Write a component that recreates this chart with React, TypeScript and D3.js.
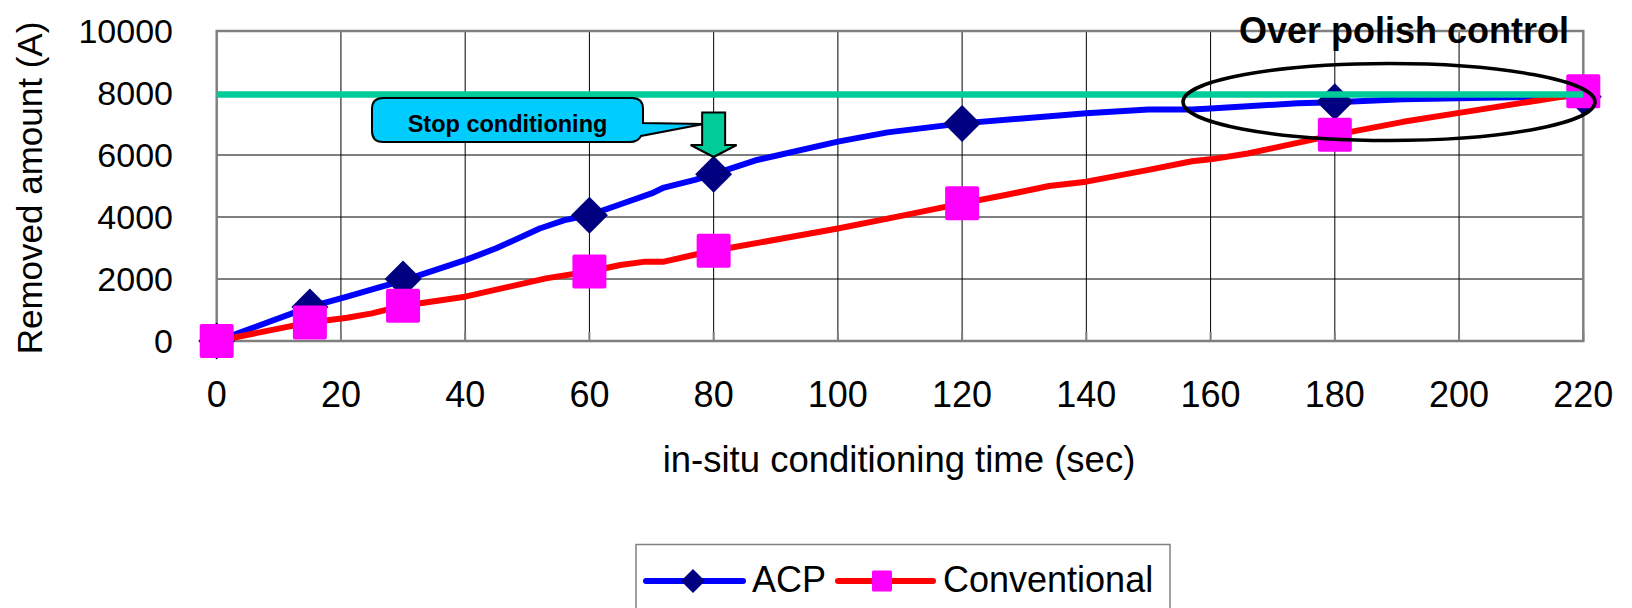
import { useEffect, useRef } from 'react'
import * as d3 from 'd3'

const WIDTH = 1632
const HEIGHT = 608
const PLOT = { left: 216.7, right: 1583.3, top: 31, bottom: 341 }
const FONT = 'Arial, "Liberation Sans", sans-serif'

const X_TICKS = [0, 20, 40, 60, 80, 100, 120, 140, 160, 180, 200, 220]
const Y_TICKS = [0, 2000, 4000, 6000, 8000, 10000]

// continuous traces (sec, Å)
const ACP_TIME = [0, 15, 21, 26, 30, 40, 45, 52, 56, 60, 65, 70, 72, 77, 80, 87, 100, 108, 120, 140, 150, 157, 160, 174, 180, 191, 200, 220]
const ACP_AMOUNT = [0, 1100, 1430, 1720, 1950, 2610, 2990, 3630, 3900, 4060, 4410, 4760, 4950, 5200, 5380, 5840, 6430, 6730, 7020, 7350, 7470, 7470, 7500, 7670, 7700, 7800, 7830, 7900]
const CONV_TIME = [0, 15, 21, 25, 30, 40, 53, 60, 65, 69, 72, 78, 80, 100, 110, 120, 127, 134, 140, 150, 157, 160, 166, 180, 191, 200, 220]
const CONV_AMOUNT = [0, 600, 750, 890, 1140, 1430, 2020, 2240, 2450, 2560, 2560, 2830, 2910, 3630, 4030, 4440, 4710, 5000, 5140, 5520, 5800, 5860, 6050, 6650, 7070, 7360, 7990]

// measured points with markers
const MARK_TIME = [0, 15, 30, 60, 80, 120, 180, 220]
const ACP_MARKS = [0, 1100, 2000, 4060, 5380, 7020, 7720, 7880]
const CONV_MARKS = [0, 600, 1140, 2240, 2910, 4440, 6650, 8060]

const TARGET = 7950
const STOP_TIME = 80

function diamond(cx: number, cy: number, r: number) {
  return `M${cx},${cy - r}L${cx + r},${cy}L${cx},${cy + r}L${cx - r},${cy}Z`
}

export default function App() {
  const svgRef = useRef<SVGSVGElement>(null)

  useEffect(() => {
    if (!svgRef.current) return
    const svg = d3.select(svgRef.current)
    svg.selectAll('*').remove()

    const x = d3.scaleLinear().domain([0, 220]).range([PLOT.left, PLOT.right])
    const y = d3.scaleLinear().domain([0, 10000]).range([PLOT.bottom, PLOT.top])

    svg.append('rect').attr('width', WIDTH).attr('height', HEIGHT).attr('fill', '#fff')

    // ── Grid ──
    const grid = svg.append('g')
    grid.selectAll('.vg').data(X_TICKS.slice(1, -1)).join('line')
      .attr('x1', (d) => x(d)).attr('x2', (d) => x(d))
      .attr('y1', PLOT.top).attr('y2', PLOT.bottom)
      .attr('stroke', '#000').attr('stroke-width', 1)
    grid.selectAll('.hg').data(Y_TICKS.slice(1, -1)).join('line')
      .attr('x1', PLOT.left).attr('x2', PLOT.right)
      .attr('y1', (d) => y(d)).attr('y2', (d) => y(d))
      .attr('stroke', '#000').attr('stroke-width', 1)

    // inside tick marks
    grid.selectAll('.xt').data(X_TICKS).join('line')
      .attr('x1', (d) => x(d)).attr('x2', (d) => x(d))
      .attr('y1', PLOT.bottom - 9).attr('y2', PLOT.bottom)
      .attr('stroke', '#808080').attr('stroke-width', 2)
    grid.selectAll('.yt').data(Y_TICKS).join('line')
      .attr('x1', PLOT.left).attr('x2', PLOT.left + 10)
      .attr('y1', (d) => y(d)).attr('y2', (d) => y(d))
      .attr('stroke', '#808080').attr('stroke-width', 2)

    // frame
    svg.append('rect')
      .attr('x', PLOT.left).attr('y', PLOT.top)
      .attr('width', PLOT.right - PLOT.left).attr('height', PLOT.bottom - PLOT.top)
      .attr('fill', 'none').attr('stroke', '#808080').attr('stroke-width', 2.5)

    // ── Tick labels ──
    svg.append('g').selectAll('text').data(Y_TICKS).join('text')
      .attr('x', 173).attr('y', (d) => y(d)).attr('dy', '0.35em')
      .attr('text-anchor', 'end').attr('font-family', FONT).attr('font-size', 34).attr('fill', '#000')
      .text((d) => d)
    svg.append('g').selectAll('text').data(X_TICKS).join('text')
      .attr('x', (d) => x(d)).attr('y', 406.5)
      .attr('text-anchor', 'middle').attr('font-family', FONT).attr('font-size', 36).attr('fill', '#000')
      .text((d) => d)

    // axis titles
    svg.append('text')
      .attr('x', 899).attr('y', 472)
      .attr('text-anchor', 'middle').attr('font-family', FONT).attr('font-size', 36.5).attr('fill', '#000')
      .text('in-situ conditioning time (sec)')
    svg.append('text')
      .attr('transform', 'translate(42,188) rotate(-90)')
      .attr('text-anchor', 'middle').attr('font-family', FONT).attr('font-size', 35).attr('fill', '#000')
      .text('Removed amount (A)')

    // ── Series ──
    const line = d3.line<[number, number]>().x((d) => x(d[0])).y((d) => y(d[1]))
    const acp = ACP_TIME.map((t, i) => [t, ACP_AMOUNT[i]] as [number, number])
    const conv = CONV_TIME.map((t, i) => [t, CONV_AMOUNT[i]] as [number, number])

    svg.append('path').attr('d', line(acp)).attr('fill', 'none')
      .attr('stroke', '#0000FF').attr('stroke-width', 6).attr('stroke-linejoin', 'round')
    svg.append('g').selectAll('path').data(MARK_TIME).join('path')
      .attr('d', (t, i) => diamond(x(t), y(ACP_MARKS[i]), 18.5))
      .attr('fill', '#000080')

    svg.append('path').attr('d', line(conv)).attr('fill', 'none')
      .attr('stroke', '#FF0000').attr('stroke-width', 6).attr('stroke-linejoin', 'round')
    svg.append('g').selectAll('rect').data(MARK_TIME).join('rect')
      .attr('x', (t) => x(t) - 17).attr('y', (t, i) => y(CONV_MARKS[i]) - 17)
      .attr('width', 34).attr('height', 34).attr('rx', 2)
      .attr('fill', '#FF00FF')

    // target line
    svg.append('line')
      .attr('x1', x(0)).attr('x2', x(220)).attr('y1', y(TARGET)).attr('y2', y(TARGET))
      .attr('stroke', '#00CC99').attr('stroke-width', 6.5)

    // ── Callout "Stop conditioning" ──
    const bx0 = 372, bx1 = 643, by0 = 98, by1 = 142, r = 11
    const tipX = x(STOP_TIME) - 10, tipY = 124
    svg.append('path')
      .attr('d', `M${bx0 + r},${by0}H${bx1 - r}Q${bx1},${by0} ${bx1},${by0 + r}V123L${tipX},${tipY}L${bx1 - 2},${136}Q${bx1 - 5},${by1} ${bx1 - r - 2},${by1}H${bx0 + r}Q${bx0},${by1} ${bx0},${by1 - r}V${by0 + r}Q${bx0},${by0} ${bx0 + r},${by0}Z`)
      .attr('fill', '#00CCFF').attr('stroke', '#000').attr('stroke-width', 2)
    svg.append('text')
      .attr('x', 507.5).attr('y', 131.5)
      .attr('text-anchor', 'middle').attr('font-family', FONT).attr('font-weight', 'bold')
      .attr('font-size', 23.5).attr('fill', '#000')
      .text('Stop conditioning')

    // down arrow at stop point
    const ax = x(STOP_TIME)
    svg.append('path')
      .attr('d', `M${ax - 11.5},112.5H${ax + 11.5}V145H${ax + 23}L${ax},157L${ax - 23},145H${ax - 11.5}Z`)
      .attr('fill', '#00CC99').attr('stroke', '#000').attr('stroke-width', 2).attr('stroke-linejoin', 'miter')

    // ── Over polish ellipse ──
    svg.append('ellipse')
      .attr('cx', 1389).attr('cy', 102).attr('rx', 206).attr('ry', 38.5)
      .attr('fill', 'none').attr('stroke', '#000').attr('stroke-width', 3.5)
    svg.append('text')
      .attr('x', 1404).attr('y', 43)
      .attr('text-anchor', 'middle').attr('font-family', FONT).attr('font-weight', 'bold')
      .attr('font-size', 36).attr('fill', '#000')
      .text('Over polish control')

    // ── Legend ──
    const lg = svg.append('g')
    lg.append('rect')
      .attr('x', 636).attr('y', 544.5).attr('width', 534).attr('height', 80)
      .attr('fill', '#fff').attr('stroke', '#808080').attr('stroke-width', 1.5)
    const ly = 581
    lg.append('line').attr('x1', 646).attr('x2', 743).attr('y1', ly).attr('y2', ly)
      .attr('stroke', '#0000FF').attr('stroke-width', 6).attr('stroke-linecap', 'round')
    lg.append('path').attr('d', diamond(693, ly, 12)).attr('fill', '#000080')
    lg.append('text').attr('x', 752).attr('y', 592)
      .attr('font-family', FONT).attr('font-size', 36).attr('fill', '#000').text('ACP')
    lg.append('line').attr('x1', 838).attr('x2', 933).attr('y1', ly).attr('y2', ly)
      .attr('stroke', '#FF0000').attr('stroke-width', 6).attr('stroke-linecap', 'round')
    lg.append('rect').attr('x', 872).attr('y', ly - 10.5).attr('width', 20).attr('height', 21).attr('rx', 1.5)
      .attr('fill', '#FF00FF')
    lg.append('text').attr('x', 943).attr('y', 592)
      .attr('font-family', FONT).attr('font-size', 36).attr('fill', '#000').text('Conventional')
  }, [])

  return (
    <svg
      ref={svgRef}
      width={WIDTH}
      height={HEIGHT}
      style={{ position: 'absolute', left: 0, top: 0, display: 'block' }}
    />
  )
}
